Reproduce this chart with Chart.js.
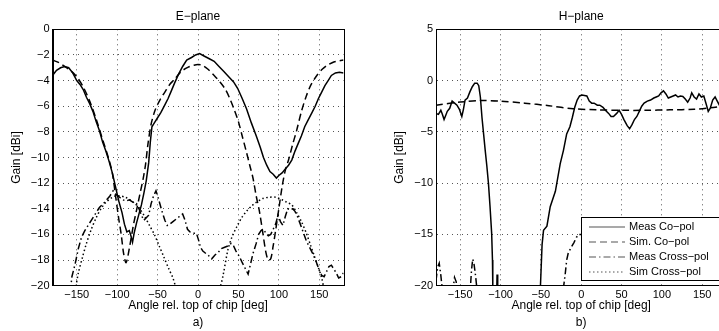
<!DOCTYPE html>
<html>
<head>
<meta charset="utf-8">
<script src="https://cdn.jsdelivr.net/npm/chart.js@4.4.0/dist/chart.umd.min.js"></script>
<style>
html, body { margin: 0; padding: 0; background: #fff; overflow: hidden; width: 719px; height: 331px; }
canvas { position: absolute; top: 0; }
#ePlane { left: 0; }
#hPlane { left: 360px; }
</style>
</head>
<body>
<canvas id="ePlane" width="360" height="331"></canvas>
<canvas id="hPlane" width="368" height="331"></canvas>
<script>
// tick labels / categories
var angleTicks = [-150, -100, -50, 0, 50, 100, 150];
var eGainTicks = [-20, -18, -16, -14, -12, -10, -8, -6, -4, -2, 0];
var hGainTicks = [-20, -15, -10, -5, 0, 5];
var seriesNames = ['Meas Co\u2212pol', 'Sim. Co\u2212pol', 'Meas Cross\u2212pol', 'Sim Cross\u2212pol'];

// E-plane
var eMeasCoAngle = [-180, -175, -170, -165, -160, -155, -150, -146, -142, -138, -134, -130, -126, -122, -118, -114, -110, -106, -102, -98, -94, -91, -88, -85, -83, -81, -79, -76, -73, -70, -67, -64, -61, -59, -57, -54, -50, -46, -41, -37, -33, -29, -24, -19, -14, -8, -3, 2, 8, 14, 20, 26, 32, 38, 44, 49, 54, 60, 66, 72, 77, 81, 85, 89, 93, 97, 100, 104, 108, 112, 116, 120, 124, 128, 132, 136, 141, 145, 149, 153, 157, 161, 165, 170, 175, 180];
var eMeasCoGain = [-3.6, -3.2, -3.0, -2.9, -3.0, -3.4, -4.0, -4.3, -4.7, -5.3, -5.8, -6.4, -7.2, -7.9, -8.8, -9.5, -10.3, -11.2, -12.3, -13.4, -14.3, -15.2, -15.8, -15.7, -16.1, -16.6, -15.9, -15.1, -14.4, -13.7, -12.8, -11.8, -10.4, -8.8, -7.6, -7.3, -6.9, -6.5, -5.9, -5.4, -4.8, -4.2, -3.5, -2.9, -2.4, -2.2, -2.0, -1.9, -2.1, -2.3, -2.5, -2.9, -3.3, -3.7, -4.1, -4.6, -5.3, -6.2, -7.3, -8.3, -9.2, -10.0, -10.6, -11.1, -11.3, -11.6, -11.4, -11.2, -10.9, -10.6, -10.2, -9.5, -8.9, -8.3, -7.6, -7.1, -6.5, -6.0, -5.4, -4.9, -4.4, -4.0, -3.6, -3.4, -3.35, -3.4];

var eSimCoAngle = [-180, -172, -165, -158, -150, -142, -134, -126, -118, -110, -106, -102, -98, -95, -92, -89, -85, -80, -76, -72, -68, -65, -62, -58, -53, -47, -41, -35, -29, -21, -12, -5, 0, 5, 12, 20, 27, 34, 40, 45, 50, 55, 60, 64, 68, 72, 76, 80, 84, 87, 90, 93, 96, 100, 104, 108, 112, 117, 122, 128, 134, 140, 147, 154, 160, 168, 175, 180];
var eSimCoGain = [-2.4, -2.6, -2.9, -3.2, -3.7, -4.5, -5.6, -7.0, -8.6, -10.2, -11.2, -13.0, -14.8, -16.0, -17.5, -18.2, -17.1, -15.3, -14.1, -12.9, -11.7, -10.6, -9.0, -7.4, -6.3, -5.5, -4.9, -4.3, -3.9, -3.3, -2.95, -2.8, -2.75, -2.8, -3.1, -3.6, -4.1, -4.7, -5.5, -6.3, -7.2, -8.4, -9.6, -10.6, -11.6, -13.0, -14.2, -15.8, -17.4, -18.0, -17.9, -16.9, -15.7, -14.0, -12.3, -11.0, -10.2, -9.0, -7.9, -6.4, -5.2, -4.3, -3.6, -3.1, -2.8, -2.55, -2.45, -2.4];

var eMeasXAngle = [-158, -156, -152, -148, -144, -140, -136, -132, -127, -122, -117, -113, -109, -105, -101, -97, -93, -89, -85, -80, -76, -73, -70, -67, -64, -61, -58, -55, -52, -49, -45, -41, -38, -35, -31, -27, -23, -19, -16, -13, -10, -6, -2, 1, 3, 6, 10, 14, 17, 21, 25, 29, 33, 37, 41, 44, 47, 51, 54, 58, 62, 65, 68, 72, 75, 78, 81, 84, 87, 90, 93, 96, 99, 102, 105, 108, 111, 114, 117, 120, 123, 126, 130, 134, 138, 142, 146, 150, 153, 156, 159, 162, 165, 168, 171, 174, 177, 180];
var eMeasXGain = [-20.5, -19.3, -18.3, -17.1, -16.2, -15.7, -15.3, -14.9, -14.4, -13.9, -13.6, -13.3, -13.0, -12.6, -12.9, -13.1, -13.3, -13.4, -13.3, -13.5, -13.6, -14.0, -14.5, -14.9, -14.7, -14.5, -13.6, -13.0, -12.6, -13.2, -14.1, -14.9, -15.3, -15.2, -15.0, -14.8, -14.6, -14.4, -14.9, -15.6, -15.8, -15.9, -15.9, -16.5, -17.0, -17.3, -17.5, -17.7, -17.9, -17.6, -17.4, -17.1, -17.0, -16.9, -16.7, -16.9, -17.3, -17.7, -18.1, -18.6, -19.1, -18.3, -17.5, -16.7, -16.0, -15.7, -15.6, -15.9, -16.1, -16.0, -15.6, -15.2, -14.5, -15.0, -15.3, -14.6, -14.0, -14.1, -14.0, -14.2, -14.6, -15.1, -15.8, -16.5, -17.0, -17.5, -18.1, -18.8, -19.2, -19.3, -18.9, -18.5, -18.4, -18.7, -19.0, -19.4, -19.3, -19.0];

var eSimXAngle = [-180, -165, -152, -148, -143, -138, -132, -126, -120, -114, -108, -102, -96, -90, -84, -78, -72, -66, -60, -54, -48, -42, -36, -31, -27, -15, 0, 15, 27, 31, 37, 42, 48, 54, 60, 66, 72, 80, 88, 96, 104, 110, 116, 122, 128, 134, 139, 144, 149, 153, 156, 165, 180];
var eSimXGain = [-26, -23, -20.3, -19.0, -17.8, -16.7, -15.6, -14.7, -14.0, -13.5, -13.2, -13.0, -13.0, -13.1, -13.3, -13.6, -14.0, -14.6, -15.3, -16.0, -16.9, -17.8, -18.7, -19.4, -20.2, -22, -24, -22, -20.2, -19.2, -17.2, -16.2, -15.4, -14.7, -14.2, -13.8, -13.5, -13.2, -13.1, -13.1, -13.3, -13.5, -13.7, -14.3, -15.0, -15.9, -16.8, -17.7, -18.6, -19.4, -20.3, -23, -26];

// H-plane
var hMeasCoAngle = [-180, -177, -174, -172, -170, -168, -166, -163, -160, -157, -154, -151, -148, -146, -144, -141, -138, -135, -132, -129, -127, -125, -123, -121, -119, -117, -115, -113, -111, -110, -109.6, -108, -105, -104.3, -103.5, -100, -60, -52, -50.5, -48.5, -46.7, -42.5, -38.4, -32, -26, -22, -18, -14, -11, -8, -5, -2, 1, 4, 7, 10, 13, 16, 20, 23, 27, 30, 34, 37, 40, 44, 47, 50, 53, 57, 60, 63, 66, 69, 72, 75, 78, 82, 86, 90, 93, 96, 99, 102, 105, 108, 111, 114, 117, 120, 123, 126, 129, 132, 135, 137, 140, 143, 146, 149, 152, 155, 157.5, 160, 163, 166, 168, 172, 176, 180];
var hMeasCoGain = [-3.2, -3.3, -2.9, -3.3, -3.8, -3.4, -3.0, -2.7, -2.0, -2.2, -2.4, -2.8, -3.5, -2.8, -1.9, -1.7, -1.1, -0.6, -0.25, -0.25, -0.5, -1.6, -3.6, -5.2, -6.8, -8.3, -10.0, -12.3, -14.9, -17.5, -20, -25, -22, -18.9, -22, -30, -30, -22, -20, -16, -14.6, -14.2, -12.3, -10.8, -8.1, -6.8, -5.2, -4.5, -3.6, -2.6, -1.9, -1.5, -1.4, -1.45, -1.5, -2.0, -2.2, -2.2, -2.4, -2.4, -2.6, -2.9, -3.2, -3.5, -3.5, -3.2, -2.9, -3.3, -3.8, -4.4, -4.7, -4.3, -3.8, -3.5, -3.0, -2.5, -2.2, -2.0, -1.9, -1.7, -1.6, -1.5, -1.2, -1.0, -1.3, -1.7, -1.6, -1.5, -1.4, -1.6, -1.5, -1.55, -1.8, -2.1, -1.7, -1.2, -1.6, -1.8, -1.3, -1.6, -1.5, -2.3, -3.0, -2.7, -1.9, -1.6, -1.9, -2.5, -2.2, -2.6];

var hSimCoAngle = [-180, -150, -125, -100, -70, -40, -10, 20, 50, 80, 110, 140, 160, 180];
var hSimCoGain = [-2.4, -2.1, -1.95, -2.0, -2.2, -2.45, -2.75, -2.85, -2.9, -2.9, -2.85, -2.8, -2.65, -2.45];

var hMeasXAngle = [-180, -178, -176, -174, -172, -165, -160, -157, -155, -153, -145, -138, -136, -134.5, -133, -131, -129, -120, -60, -30, -22, -20, -18, -16, -14, -12, -9, -6, -3, 0, 10, 30, 60, 90, 120, 150, 180];
var hMeasXGain = [-19.5, -18.2, -17.8, -19.0, -20.5, -24, -21, -19.2, -19.6, -21, -25, -21, -18.5, -17.4, -17.8, -19, -20.5, -25, -28, -24, -20.2, -19.0, -17.5, -16.8, -16.5, -16.2, -15.8, -15.3, -15.0, -15.0, -15.5, -16.5, -17, -16.5, -17, -17.5, -18];

var hSimXAngle = [-180, -90, 0, 90, 180];
var hSimXGain = [-28, -35, -40, -35, -28];

var fontFamily = '"Liberation Sans", Arial, Helvetica, sans-serif';
Chart.defaults.font.family = fontFamily;
Chart.defaults.color = '#000';

const pts = (xs, ys) => xs.map((x, i) => ({x: x, y: ys[i]}));
const minus = v => String(v).replace('-', '\u2212');
const dashes = [[], [7, 4], [7, 3, 1.5, 3], [1.5, 2.5]];

const makeDatasets = (series) => series.map((s, i) => ({
  label: seriesNames[i],
  data: pts(s[0], s[1]),
  borderColor: '#000',
  borderWidth: 1.5,
  borderDash: dashes[i],
  pointRadius: 0,
  fill: false,
  tension: i % 2 ? 0.3 : 0,
  clip: 0
}));

// box around the axes, like matlab "box on"
const frame = {
  id: 'frame',
  afterDatasetsDraw(chart) {
    const a = chart.chartArea, ctx = chart.ctx;
    ctx.save();
    ctx.strokeStyle = '#000';
    ctx.lineWidth = 1;
    ctx.strokeRect(Math.round(a.left) + 0.5, Math.round(a.top) + 0.5, Math.round(a.right - a.left), Math.round(a.bottom - a.top));
    ctx.restore();
  }
};

// matlab style legend in the lower right corner of the axes
const boxLegend = {
  id: 'boxLegend',
  afterDraw(chart, args, opts) {
    if (!opts.show) return;
    const ctx = chart.ctx, a = chart.chartArea;
    const w = 138, h = 63;
    const left = Math.round(a.right - 7 - w), top = Math.round(a.bottom - 6 - h);
    ctx.save();
    ctx.fillStyle = '#fff';
    ctx.fillRect(left, top, w, h);
    ctx.strokeStyle = '#000';
    ctx.lineWidth = 1;
    ctx.strokeRect(left + 0.5, top + 0.5, w, h);
    ctx.font = '11px ' + fontFamily;
    ctx.textBaseline = 'middle';
    chart.data.datasets.forEach((ds, i) => {
      const y = top + 10 + 15 * i;
      ctx.beginPath();
      ctx.setLineDash(ds.borderDash || []);
      ctx.strokeStyle = '#555';
      ctx.lineWidth = 1.2;
      ctx.moveTo(left + 8, y);
      ctx.lineTo(left + 44, y);
      ctx.stroke();
      ctx.setLineDash([]);
      ctx.fillStyle = '#000';
      ctx.fillText(ds.label, left + 48, y);
    });
    ctx.restore();
  }
};

function makeChart(id, cfg) {
  return new Chart(document.getElementById(id), {
    type: 'line',
    data: { datasets: makeDatasets(cfg.series) },
    plugins: [frame, boxLegend],
    options: {
      responsive: false,
      animation: false,
      layout: { padding: { left: 0, right: cfg.padRight, top: 0, bottom: 0 } },
      plugins: {
        legend: { display: false },
        tooltip: { enabled: false },
        boxLegend: { show: cfg.legend }
      },
      scales: {
        x: {
          type: 'linear', position: 'bottom', min: -180, max: 180,
          afterBuildTicks: s => { s.ticks = angleTicks.map(v => ({value: v})); },
          afterFit: s => { s.height = 45.3; },
          ticks: { font: { size: 11 }, padding: 3, maxRotation: 0, callback: minus },
          grid: { color: '#555', lineWidth: 1, drawTicks: false },
          border: { display: true, color: '#000', dash: [1, 4] },
          title: { display: true, text: ['Angle rel. top of chip [deg]', cfg.tag], font: { size: 12, lineHeight: 1.4 }, padding: { top: 0, bottom: 0 } }
        },
        top: {
          type: 'linear', position: 'top', min: -180, max: 180,
          afterFit: s => { s.height = 29.3; },
          ticks: { display: false },
          grid: { display: false, drawTicks: false },
          border: { display: false },
          title: { display: true, text: cfg.title, font: { size: 12 }, padding: { top: 9.5, bottom: 0 } }
        },
        y: {
          type: 'linear', min: cfg.yTicks[0], max: cfg.yTicks[cfg.yTicks.length - 1],
          afterBuildTicks: s => { s.ticks = cfg.yTicks.map(v => ({value: v})); },
          afterFit: s => { s.width = cfg.yWidth; },
          ticks: { font: { size: 11 }, padding: 3, callback: minus },
          grid: { color: '#555', lineWidth: 1, drawTicks: false },
          border: { display: true, color: '#000', dash: [1, 4] },
          title: { display: true, text: 'Gain [dBi]', font: { size: 12 }, padding: { top: cfg.yTitlePad, bottom: 0 } }
        }
      }
    }
  });
}

makeChart('ePlane', {
  title: 'E\u2212plane', tag: 'a)', yTicks: eGainTicks, yWidth: 52.5, yTitlePad: 9, padRight: 16.5, legend: false,
  series: [[eMeasCoAngle, eMeasCoGain], [eSimCoAngle, eSimCoGain], [eMeasXAngle, eMeasXGain], [eSimXAngle, eSimXGain]]
});

makeChart('hPlane', {
  title: 'H\u2212plane', tag: 'b)', yTicks: hGainTicks, yWidth: 76, yTitlePad: 32, padRight: 1.6, legend: true,
  series: [[hMeasCoAngle, hMeasCoGain], [hSimCoAngle, hSimCoGain], [hMeasXAngle, hMeasXGain], [hSimXAngle, hSimXGain]]
});
</script>
</body>
</html>
